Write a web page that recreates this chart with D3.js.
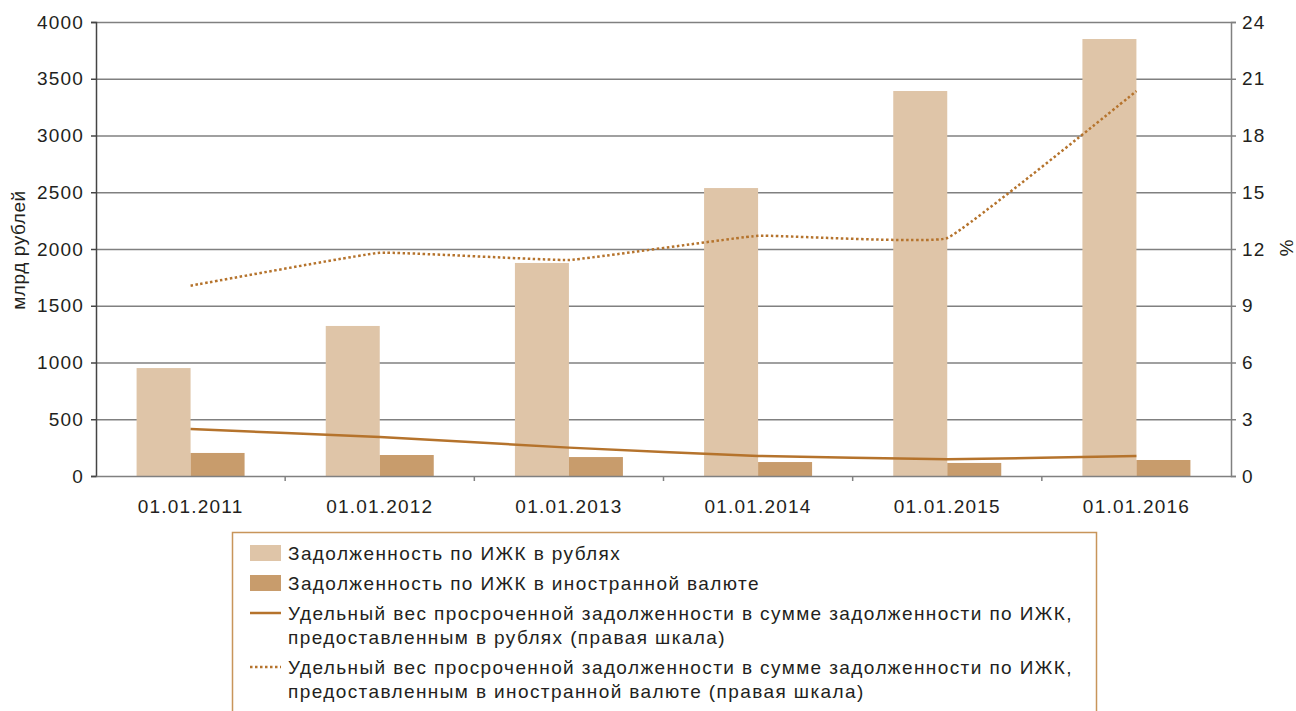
<!DOCTYPE html>
<meta charset="utf-8">
<style type="text/css">
  body {
    margin: 0;
    background: #fff;
    font-family: "Liberation Sans", Arial, sans-serif;
  }
  .tick text {
    font-size: 19px;
    letter-spacing: 1.2px;
    fill: #231f20;
    font-family: "Liberation Sans", Arial, sans-serif;
  }
  .legend text, .title {
    font-size: 19px;
    letter-spacing: 1.4px;
    fill: #231f20;
  }
</style>
<body></body>
<script src="https://d3js.org/d3.v7.min.js"></script>
<script>
  var dates = ["01.01.2011", "01.01.2012", "01.01.2013", "01.01.2014", "01.01.2015", "01.01.2016"];
  var rubDebt = [951, 1322, 1877, 2537, 3392, 3850];
  var fxDebt = [203, 185, 167, 123, 115, 141];
  var rubOverdue = [2.48, 2.06, 1.5, 1.06, 0.88, 1.06];
  var fxOverdue = [10.06, 11.8, 11.42, 12.7, 12.58, 20.35];
  var leftTicks = [0, 500, 1000, 1500, 2000, 2500, 3000, 3500, 4000];
  var rightTicks = [0, 3, 6, 9, 12, 15, 18, 21, 24];
  var legendItems = [
    {type: "bar", color: "#dfc5a8", lines: ["Задолженность по ИЖК в рублях"]},
    {type: "bar", color: "#c89c6c", lines: ["Задолженность по ИЖК в иностранной валюте"]},
    {type: "solid", color: "#b5732c", lines: ["Удельный вес просроченной задолженности в сумме задолженности по ИЖК,", "предоставленным в рублях (правая шкала)"]},
    {type: "dot", color: "#b5732c", lines: ["Удельный вес просроченной задолженности в сумме задолженности по ИЖК,", "предоставленным в иностранной валюте (правая шкала)"]}
  ];

  var W = 1296, H = 711;
  var margin = {top: 22, right: 65, bottom: 235, left: 96};
  var width = W - margin.left - margin.right,
    height = H - margin.top - margin.bottom;

  var svg = d3.select("body").append("svg")
    .attr("width", W)
    .attr("height", H);

  var g = svg.append("g")
    .attr("transform", "translate(" + margin.left + "," + margin.top + ")");

  var x = d3.scaleBand().domain(dates).range([0, width]);
  var y = d3.scaleLinear().domain([0, 4000]).range([height, 0]);
  var y2 = d3.scaleLinear().domain([0, 24]).range([height, 0]);
  var barW = 54;

  // gridlines
  g.append("g")
    .selectAll("line")
    .data(leftTicks.slice(1))
    .enter().append("line")
    .attr("x1", 0)
    .attr("x2", width)
    .attr("y1", function(d) { return y(d) + 0.5; })
    .attr("y2", function(d) { return y(d) + 0.5; })
    .style("stroke", "#808080")
    .style("stroke-width", 1.5);

  // bars
  g.append("g").selectAll("rect")
    .data(dates)
    .enter().append("rect")
    .attr("x", function(d) { return x(d) + x.bandwidth() / 2 - barW; })
    .attr("y", function(d, i) { return y(rubDebt[i]); })
    .attr("width", barW)
    .attr("height", function(d, i) { return height - y(rubDebt[i]); })
    .style("fill", "#dfc5a8");

  g.append("g").selectAll("rect")
    .data(dates)
    .enter().append("rect")
    .attr("x", function(d) { return x(d) + x.bandwidth() / 2; })
    .attr("y", function(d, i) { return y(fxDebt[i]); })
    .attr("width", barW)
    .attr("height", function(d, i) { return height - y(fxDebt[i]); })
    .style("fill", "#c89c6c");

  // lines, lightly smoothed
  var line = d3.line()
    .x(function(d, i) { return x(dates[i]) + x.bandwidth() / 2; })
    .y(function(d) { return y2(d); })
    .curve(d3.curveCardinal.tension(0.75));

  g.append("path")
    .datum(rubOverdue)
    .attr("d", line)
    .style("fill", "none")
    .style("stroke", "#b5732c")
    .style("stroke-width", 2.5);

  g.append("path")
    .datum(fxOverdue)
    .attr("d", line)
    .style("fill", "none")
    .style("stroke", "#b5732c")
    .style("stroke-width", 2.5)
    .style("stroke-dasharray", "2.5,2.5");

  // axes
  var yAxis = d3.axisLeft(y).tickValues(leftTicks).tickFormat(d3.format("d"))
    .tickSize(5).tickPadding(7);
  var gy = g.append("g").call(yAxis);
  gy.select(".domain").style("stroke", "#444").style("stroke-width", 1.5);
  gy.selectAll(".tick line").style("stroke", "#444").style("stroke-width", 1.5);

  var yAxis2 = d3.axisRight(y2).tickValues(rightTicks).tickFormat(d3.format("d"))
    .tickSize(5).tickPadding(6);
  var gy2 = g.append("g")
    .attr("transform", "translate(" + width + ",0)")
    .call(yAxis2);
  gy2.select(".domain").style("stroke", "#808080").style("stroke-width", 1.5);
  gy2.selectAll(".tick line").style("stroke", "#808080").style("stroke-width", 1.5);

  var xAxis = d3.axisBottom(x).tickSize(0).tickPadding(24);
  var gx = g.append("g")
    .attr("transform", "translate(0," + height + ")")
    .call(xAxis);
  gx.select(".domain").style("stroke", "#808080").style("stroke-width", 1.5);

  // category boundary ticks
  g.append("g").selectAll("line")
    .data(dates.slice(1))
    .enter().append("line")
    .attr("x1", function(d) { return x(d); })
    .attr("x2", function(d) { return x(d); })
    .attr("y1", height)
    .attr("y2", height + 5)
    .style("stroke", "#808080")
    .style("stroke-width", 1.5);

  // axis titles
  svg.append("text")
    .attr("class", "title")
    .attr("transform", "translate(25," + 250 + ") rotate(-90)")
    .style("text-anchor", "middle")
    .style("letter-spacing", "0.6px")
    .text("млрд рублей");

  svg.append("text")
    .attr("class", "title")
    .attr("transform", "translate(1280," + 248 + ") rotate(90)")
    .style("text-anchor", "middle")
    .style("letter-spacing", "0px")
    .text("%");

  // legend
  var legend = svg.append("g").attr("class", "legend");
  legend.append("rect")
    .attr("x", 232.5)
    .attr("y", 532.5)
    .attr("width", 864)
    .attr("height", 200)
    .style("fill", "none")
    .style("stroke", "#c8955a")
    .style("stroke-width", 1.5);

  var rowY = [553, 583, 613, 667];
  legendItems.forEach(function(item, i) {
    var cy = rowY[i];
    if (item.type === "bar") {
      legend.append("rect")
        .attr("x", 250).attr("y", cy - 8)
        .attr("width", 31).attr("height", 16)
        .style("fill", item.color);
    } else {
      legend.append("line")
        .attr("x1", 250).attr("x2", 281)
        .attr("y1", cy).attr("y2", cy)
        .style("stroke", item.color)
        .style("stroke-width", 2.5)
        .style("stroke-dasharray", item.type === "dot" ? "2.5,2.5" : null);
    }
    item.lines.forEach(function(t, j) {
      legend.append("text")
        .attr("x", 288)
        .attr("y", cy + j * 24)
        .attr("dy", "0.35em")
        .text(t);
    });
  });
</script>
